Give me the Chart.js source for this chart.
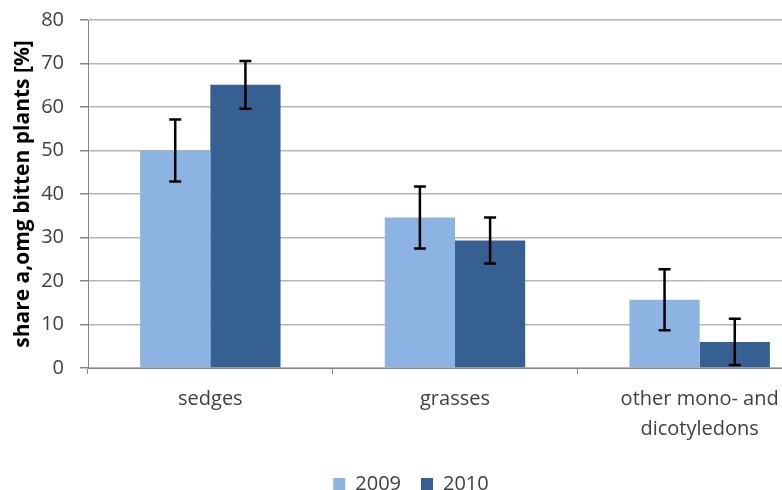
<!DOCTYPE html>
<html lang="en">
<head>
<meta charset="utf-8">
<title>share among bitten plants</title>
<script src="https://cdn.jsdelivr.net/npm/chart.js"></script>
<style>
  html,body{margin:0;padding:0;background:#fff;overflow:hidden}
  #wrap{width:830px;height:490px}
</style>
</head>
<body>
<div id="wrap"><canvas id="chart"></canvas></div>
<script>
const categories = [['sedges'], ['grasses'], ['other mono- and', 'dicotyledons']];
const years = ['2009', '2010'];
const share2009 = [50, 34.6, 15.7];
const share2010 = [65.1, 29.3, 6];
const err2009 = [7.1, 7.1, 7];
const err2010 = [5.5, 5.3, 5.3];

// draws the black whiskers on top of each bar
const errorBars = {
  id: 'errorBars',
  afterDatasetsDraw(chart){
    const {ctx, scales:{y}} = chart;
    ctx.save();
    ctx.strokeStyle = '#000';
    ctx.lineWidth = 2.5;
    chart.data.datasets.forEach((ds, i) => {
      const meta = chart.getDatasetMeta(i);
      meta.data.forEach((bar, j) => {
        const v = ds.data[j], e = ds.errors[j];
        const top = y.getPixelForValue(v + e), bot = y.getPixelForValue(v - e);
        ctx.beginPath();
        ctx.moveTo(bar.x, top); ctx.lineTo(bar.x, bot);
        ctx.moveTo(bar.x - 6, top); ctx.lineTo(bar.x + 6, top);
        ctx.moveTo(bar.x - 6, bot); ctx.lineTo(bar.x + 6, bot);
        ctx.stroke();
      });
    });
    ctx.restore();
  }
};

Chart.defaults.font.family = '"Open Sans", sans-serif';
Chart.defaults.color = '#404040';

new Chart(document.getElementById('chart'), {
  type: 'bar',
  data: {
    labels: categories,
    datasets: [
      { label: years[0], data: share2009, errors: err2009, backgroundColor: '#8db3e2' },
      { label: years[1], data: share2010, errors: err2010, backgroundColor: '#376092' }
    ]
  },
  options: {
    responsive: true,
    maintainAspectRatio: false,
    animation: false,
    layout: { padding: { top: 20, right: 8, left: 0, bottom: -14 } },
    datasets: { bar: { categoryPercentage: 0.574, barPercentage: 1 } },
    plugins: {
      legend: {
        position: 'bottom',
        labels: { boxWidth: 12, boxHeight: 12, padding: 20, font: { size: 20 }, color: '#404040' }
      },
      tooltip: { enabled: false }
    },
    scales: {
      x: {
        grid: { drawOnChartArea: false, drawTicks: true, tickLength: 6, color: '#868686', offset: true },
        border: { color: '#868686' },
        ticks: { font: { size: 20, lineHeight: 1.5 }, color: '#404040', padding: 10 }
      },
      y: {
        min: 0, max: 80,
        ticks: { stepSize: 10, font: { size: 20 }, color: '#404040', padding: 16 },
        grid: { color: '#b5b5b5', lineWidth: 1.5, tickLength: 8, tickColor: '#868686' },
        border: { color: '#868686' },
        title: {
          display: true, text: 'share a,omg bitten plants [%]',
          font: { size: 21, weight: 'bold' }, color: '#000', padding: { top: 10, bottom: 0 }
        },
        afterFit(scale){ scale.width = 88; scale.paddingTop = 0; scale.paddingBottom = 0; }
      }
    }
  },
  plugins: [errorBars]
});
</script>
</body>
</html>
